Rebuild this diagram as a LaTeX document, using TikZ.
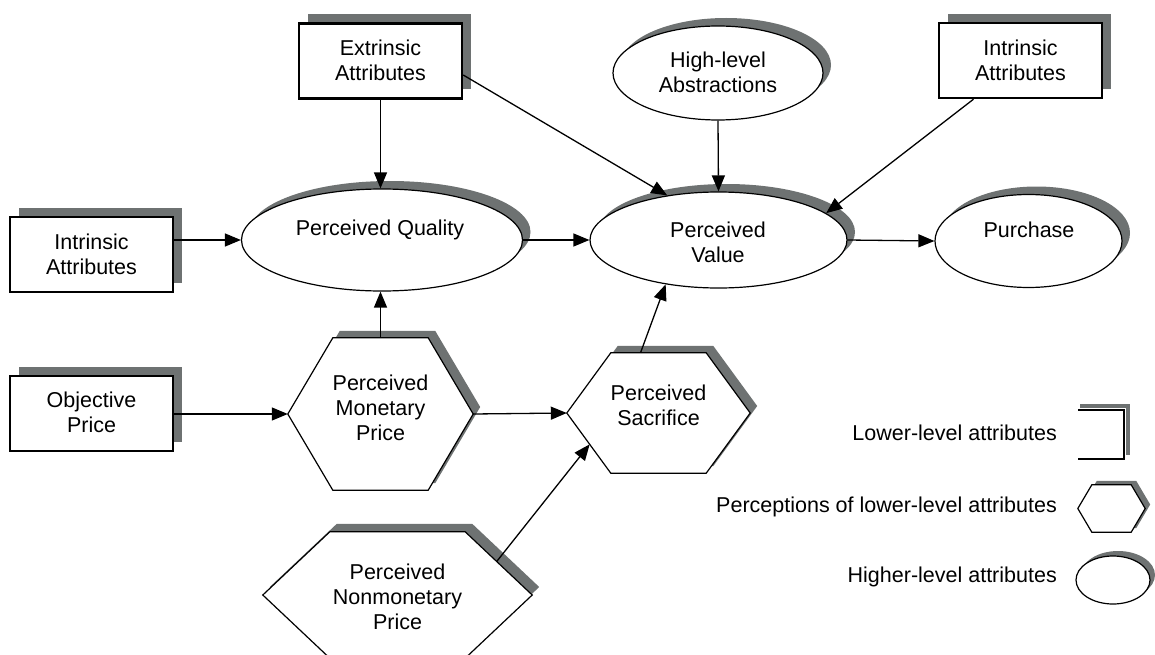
\documentclass[tikz,border=0pt]{standalone}
\usepackage{fontspec}
\setmainfont{Liberation Sans}
\usetikzlibrary{shapes.geometric,arrows.meta,calc,shadows}
\definecolor{shadowgray}{RGB}{110,114,114}
\tikzset{
  lbl/.style={font=\fontsize{21.5}{25}\selectfont, align=center, inner sep=0pt},
  lowbox/.style={draw, line width=2.4pt, fill=white, minimum width=163pt,
    minimum height=75pt, inner sep=0pt,
    copy shadow={shadow xshift=9pt, shadow yshift=9pt, fill=shadowgray, draw=none}},
  highell/.style={ellipse, draw, line width=1.2pt, fill=white, inner sep=0pt,
    copy shadow={shadow xshift=8pt, shadow yshift=8pt, fill=shadowgray, draw=none}},
  smallell/.style={ellipse, draw, line width=1.2pt, fill=white, inner sep=0pt,
    copy shadow={shadow xshift=5pt, shadow yshift=5pt, fill=shadowgray, draw=none}},
  hexframe/.style={inner sep=0pt, draw=none},
  hexline/.style={draw=black, line width=1.2pt, fill=white, line join=miter},
  link/.style={line width=1.3pt, -{Triangle[length=16pt,width=13pt]}},
}
% hexagon drawn inside the frame of a named node: #1 name, #2 corner inset, #3 shadow offset
\newcommand\drawhexagon[3]{%
  \coordinate (#1-nw) at ([xshift=#2]#1.north west);
  \coordinate (#1-ne) at ([xshift=-#2]#1.north east);
  \coordinate (#1-se) at ([xshift=-#2]#1.south east);
  \coordinate (#1-sw) at ([xshift=#2]#1.south west);
  \fill[shadowgray] ([shift={#3}]#1.west) -- ([shift={#3}]#1-nw) -- ([shift={#3}]#1-ne)
    -- ([shift={#3}]#1.east) -- ([shift={#3}]#1-se) -- ([shift={#3}]#1-sw) -- cycle;
  \path[hexline] (#1.west) -- (#1-nw) -- (#1-ne) -- (#1.east) -- (#1-se) -- (#1-sw) -- cycle;
}
\begin{document}
\begin{tikzpicture}[x=1pt, y=-1pt]
\useasboundingbox (0,0) rectangle (1155,655);
\clip (0,0) rectangle (1155,655);

% lower-level attributes
\node[lowbox] (ex) at (380.5,61) {};
\node[lowbox] (il) at (91.5,254.5) {};
\node[lowbox] (op) at (91.5,413.5) {};
\node[lowbox] (ir) at (1020.5,60.5) {};

% higher-level attributes
\node[highell, minimum width=281pt, minimum height=102pt] (pq) at (382,240) {};
\node[highell, minimum width=257pt, minimum height=96pt] (pv) at (718.5,240) {};
\node[highell, minimum width=187pt, minimum height=93pt] (pu) at (1028.5,241) {};
\node[highell, minimum width=210pt, minimum height=94pt] (ha) at (718,73) {};

% perceptions of lower-level attributes
\node[hexframe, minimum width=185pt, minimum height=152pt] (pmp) at (380.5,414) {};
\node[hexframe, minimum width=183pt, minimum height=120pt] (ps) at (658.5,413) {};
\node[hexframe, minimum width=269pt, minimum height=126pt] (pn) at (397.5,595) {};
\drawhexagon{pmp}{45pt}{(7,-7)}
\drawhexagon{ps}{44pt}{(7,-7)}
\drawhexagon{pn}{67pt}{(7,-8)}

% labels
\node[lbl] (ex-t) at (380.5,60) {Extrinsic\\Attributes};
\node[lbl] (il-t) at (91.5,254) {Intrinsic\\Attributes};
\node[lbl] (op-t) at (91.5,412) {Objective\\Price};
\node[lbl] (ir-t) at (1020.5,60) {Intrinsic\\Attributes};
\node[lbl] (pq-t) at (380,230) {Perceived Quality};
\node[lbl] (pv-t) at (718,242) {Perceived\\Value};
\node[lbl] (pu-t) at (1029,230) {Purchase};
\node[lbl] (ha-t) at (718,72) {High-level\\Abstractions};
\node[lbl] (pmp-t) at (380.5,408) {Perceived\\Monetary\\Price};
\node[lbl] (ps-t) at (658.5,405) {Perceived\\Sacrifice};
\node[lbl] (pn-t) at (397.5,597) {Perceived\\Nonmonetary\\Price};

% connectors
\draw[link] (il.east |- pq.west) -- (pq.west);
\draw[link] (ex.south) -- (ex.south |- pq.north);
\draw[link] ([yshift=-14pt]ex.east) -- (pv.139);
\draw[link] (ha.south) -- (pv.north);
\draw[link] ([xshift=-47pt]ir.south) -- (pv.14);
\draw[link] (pq.east) -- (pv.west);
\draw[link] (pv.east) -- (pu.west);
\draw[link] (pmp.north) -- (pmp.north |- pq.south);
\draw[link] (op.east |- pmp.west) -- (pmp.west);
\draw[link] (pmp.east) -- (ps.west);
\draw[link] ([xshift=-18pt]ps.north) -- (pv.220);
\draw[link] ($(pn-ne)!0.47!(pn.east)$) -- ($(ps.west)!0.52!(ps-sw)$);

% legend
\node[lbl, anchor=east] (lg1) at (1057,433) {Lower-level attributes};
\node[lbl, anchor=east] (lg2) at (1057,507) {Perceptions of lower-level attributes};
\node[lbl, anchor=east] (lg3) at (1057,577) {Higher-level attributes};
\draw[shadowgray, line width=4pt] (1080,406) -| (1128,455);
\draw[line width=2pt] (1078,410) -| (1124,459) -- (1078,459);
\node[hexframe, minimum width=67pt, minimum height=47pt] (lg-hex) at (1111.5,508.5) {};
\drawhexagon{lg-hex}{14pt}{(5,-4)}
\node[smallell, minimum width=74pt, minimum height=48pt] (lg-ell) at (1113,580) {};
\end{tikzpicture}
\end{document}
